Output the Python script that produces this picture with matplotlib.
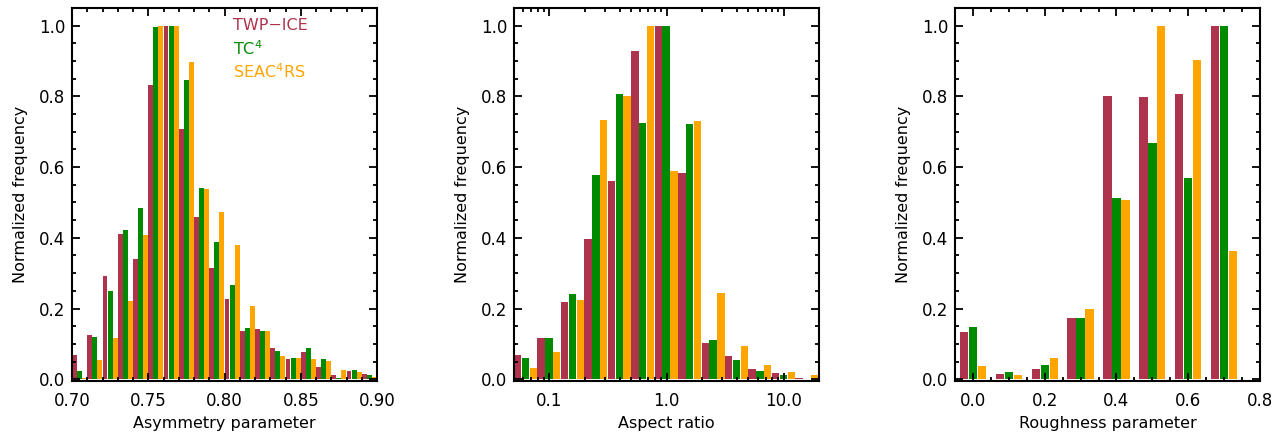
import numpy as np
import matplotlib
matplotlib.use("Agg")
import matplotlib.pyplot as plt
from matplotlib.ticker import MultipleLocator, FixedLocator, FixedFormatter, LogLocator, NullFormatter

plt.rcParams['font.family'] = ['DejaVu Sans']
plt.rcParams['mathtext.fontset'] = 'dejavusans'

RED = '#AE334D'
GREEN = '#008A00'
ORANGE = '#FFA500'

# asymmetry parameter bins (left edges, width 0.01)
asym_bins = [0.70, 0.71, 0.72, 0.73, 0.74, 0.75, 0.76, 0.77, 0.78, 0.79,
             0.80, 0.81, 0.82, 0.83, 0.84, 0.85, 0.86, 0.87, 0.88, 0.89]
asym_twp = [0.069, 0.124, 0.291, 0.41, 0.339, 0.833, 1.0, 0.709, 0.46, 0.316,
            0.226, 0.136, 0.141, 0.088, 0.056, 0.076, 0.034, 0.011, 0.023, 0.014]
asym_tc4 = [0.023, 0.119, 0.249, 0.421, 0.483, 0.997, 1.0, 0.847, 0.54, 0.387,
            0.266, 0.144, 0.136, 0.079, 0.059, 0.088, 0.056, 0.003, 0.025, 0.011]
asym_seac = [0.003, 0.055, 0.116, 0.22, 0.407, 1.0, 1.0, 0.898, 0.537, 0.472,
             0.381, 0.206, 0.136, 0.065, 0.059, 0.056, 0.051, 0.025, 0.02, 0.006]

# aspect ratio bins (log10 left edges, width 0.2 decade)
ar_logbins = [-1.301, -1.101, -0.901, -0.701, -0.501, -0.301, -0.101,
              0.099, 0.299, 0.499, 0.699, 0.899, 1.099]
ar_twp = [0.068, 0.116, 0.218, 0.398, 0.562, 0.927, 1.0, 0.582, 0.102, 0.065, 0.028, 0.017, 0.003]
ar_tc4 = [0.059, 0.116, 0.24, 0.579, 0.808, 0.726, 1.0, 0.723, 0.11, 0.054, 0.023, 0.012, 0.002]
ar_seac = [0.031, 0.076, 0.223, 0.732, 0.8, 1.0, 0.588, 0.729, 0.243, 0.093, 0.04, 0.02, 0.011]

# roughness parameter bins (centres)
rough_bins = [0.0, 0.1, 0.2, 0.3, 0.4, 0.5, 0.6, 0.7]
rough_twp = [0.133, 0.014, 0.028, 0.172, 0.8, 0.797, 0.808, 1.0]
rough_tc4 = [0.147, 0.02, 0.04, 0.172, 0.514, 0.669, 0.568, 1.0]
rough_seac = [0.037, 0.011, 0.059, 0.198, 0.506, 1.0, 0.904, 0.364]

fig = plt.figure(figsize=(12.86, 4.33), dpi=100)
W = 305 / 1286
H = 373 / 433
B = 52 / 433
ax1 = fig.add_axes([72 / 1286, B, W, H])
ax2 = fig.add_axes([514 / 1286, B, W, H])
ax3 = fig.add_axes([955 / 1286, B, W, H])

# panel 1
bw = 0.01 / 3
x = np.array(asym_bins)
for i, (vals, c) in enumerate([(asym_twp, RED), (asym_tc4, GREEN), (asym_seac, ORANGE)]):
    ax1.bar(x + i * bw, vals, width=bw * 0.97, align='edge', color=c, zorder=1)
ax1.set_xlim(0.70, 0.90)
ax1.xaxis.set_major_locator(MultipleLocator(0.05))
ax1.xaxis.set_minor_locator(MultipleLocator(0.01))
ax1.xaxis.set_major_formatter(plt.FormatStrFormatter('%.2f'))
ax1.set_xlabel('Asymmetry parameter')

ytr = ax1.get_yaxis_transform()
ax1.text(0.528, 1.0, 'TWP\u2212ICE', color=RED, transform=ytr, ha='left', va='center', fontsize=11.5)
ax1.text(0.528, 0.935, 'TC$^4$', color=GREEN, transform=ytr, ha='left', va='center', fontsize=11.5)
ax1.text(0.528, 0.87, 'SEAC$^4$RS', color=ORANGE, transform=ytr, ha='left', va='center', fontsize=11.5)

# panel 2 (log x)
lb = np.array(ar_logbins)
sub = 0.2 / 3
for i, (vals, c) in enumerate([(ar_twp, RED), (ar_tc4, GREEN), (ar_seac, ORANGE)]):
    left = 10 ** (lb + i * sub)
    right = 10 ** (lb + (i + 0.95) * sub)
    ax2.bar(left, vals, width=right - left, align='edge', color=c, zorder=1)
ax2.set_xscale('log')
ax2.set_xlim(0.05, 20)
ax2.xaxis.set_major_locator(FixedLocator([0.1, 1.0, 10.0]))
ax2.xaxis.set_major_formatter(FixedFormatter(['0.1', '1.0', '10.0']))
ax2.xaxis.set_minor_locator(LogLocator(base=10, subs=np.arange(2, 10)))
ax2.xaxis.set_minor_formatter(NullFormatter())
ax2.set_xlabel('Aspect ratio')

# panel 3
rb = np.array(rough_bins)
w3 = 0.025
for i, (vals, c) in enumerate([(rough_twp, RED), (rough_tc4, GREEN), (rough_seac, ORANGE)]):
    ax3.bar(rb + (i - 1) * w3, vals, width=w3 * 0.93, color=c, zorder=1)
ax3.set_xlim(-0.05, 0.8)
ax3.xaxis.set_major_locator(MultipleLocator(0.2))
ax3.xaxis.set_minor_locator(MultipleLocator(0.05))
ax3.xaxis.set_major_formatter(plt.FormatStrFormatter('%.1f'))
ax3.set_xlabel('Roughness parameter')

for ax in (ax1, ax2, ax3):
    ax.set_ylim(-0.005, 1.05)
    ax.yaxis.set_major_locator(MultipleLocator(0.2))
    ax.yaxis.set_minor_locator(MultipleLocator(0.05))
    ax.yaxis.set_major_formatter(plt.FormatStrFormatter('%.1f'))
    ax.set_ylabel('Normalized frequency', fontsize=11.5, labelpad=8)
    ax.xaxis.label.set_fontsize(11.5)
    ax.xaxis.labelpad = 4
    ax.tick_params(which='both', direction='in', top=True, right=True, labelsize=12, width=1.3)
    ax.tick_params(which='major', length=6)
    ax.tick_params(axis='x', which='major', pad=8)
    ax.tick_params(axis='y', which='major', pad=5)
    ax.tick_params(which='minor', length=3)
    ax.set_axisbelow(False)
    for s in ax.spines.values():
        s.set_linewidth(1.5)
        s.set_zorder(5)

plt.savefig('out.png', dpi=100)
